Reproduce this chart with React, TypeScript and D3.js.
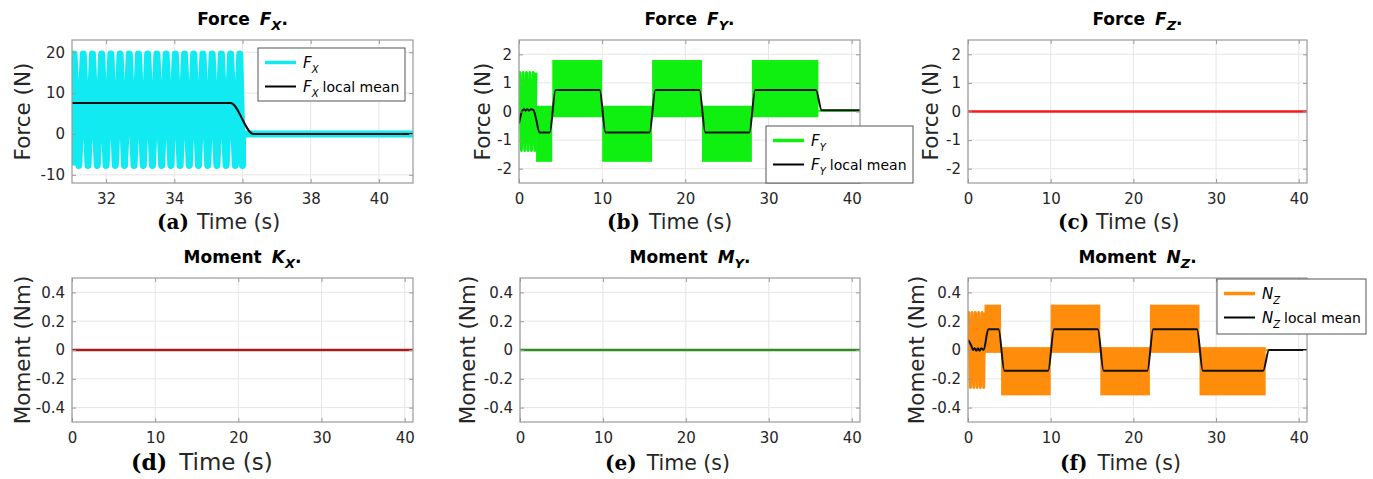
import { useRef, useEffect } from 'react';
import * as d3 from 'd3';

const width = 1373;
const height = 479;

// tick values
const fxTimeTicks = [32, 34, 36, 38, 40];
const timeTicks = [0, 10, 20, 30, 40];
const fxTicks = [-10, 0, 10, 20];
const forceTicks = [-2, -1, 0, 1, 2];
const momentTicks = [-0.4, -0.2, 0, 0.2, 0.4];

// (a) Fx: turning points of the oscillation (s), extremes (N)
const fxPeakTimes = [31.06, 31.33, 31.6, 31.87, 32.14, 32.41, 32.68, 32.95, 33.22, 33.49, 33.76, 34.03, 34.3, 34.57, 34.84, 35.11, 35.38, 35.65, 35.92];
const fxTroughTimes = [31.0, 31.2, 31.47, 31.74, 32.0, 32.27, 32.54, 32.82, 33.09, 33.36, 33.63, 33.9, 34.17, 34.44, 34.71, 34.98, 35.25, 35.52, 35.79, 36.0];
const fxPeakValue = 19.6;
const fxTroughValue = -7.7;
const fxAfter = [[36.0, 0], [41, 0]];
const fxMean = [[31, 7.6], [35.65, 7.6], [36.32, 0], [41, 0]];

// (b) Fy
const fyBurst = [[0, -0.3], [0.1, 1.36], [0.3, -1.36], [0.5, 1.36], [0.7, -1.36], [0.9, 1.36], [1.1, -1.36], [1.3, 1.36], [1.5, -1.36], [1.7, 1.36], [1.9, -1.36], [2.05, 1.36]];
const fyBands = [[2.05, 4.0, -1.76, 0.2], [4.0, 10.0, -0.2, 1.8], [10.0, 16.0, -1.76, 0.2], [16.0, 22.0, -0.2, 1.8], [22.0, 28.0, -1.76, 0.2], [28.0, 36.0, -0.2, 1.8]];
const fyAfter = [[36.0, 0.03], [41, 0.03]];
const fyMean = [[0, -0.42], [0.35, 0.0], [0.6, 0.08], [0.8, 0.03], [1.0, 0.08], [1.2, 0.03], [1.45, 0.08], [1.75, 0.04], [2.05, -0.25], [2.45, -0.73], [3.7, -0.73], [4.4, 0.75], [9.7, 0.75], [10.4, -0.73], [15.7, -0.73], [16.4, 0.75], [21.7, 0.75], [22.4, -0.73], [27.7, -0.73], [28.4, 0.75], [35.7, 0.75], [36.4, 0.04], [41, 0.04]];

// (c) Fz, (d) Kx, (e) My
const fzSeries = [[0, 0], [41, 0]];
const kxSeries = [[0, 0], [41, 0]];
const mySeries = [[0, 0], [41, 0]];

// (f) Nz
const nzBurst = [[0, 0.05], [0.1, 0.26], [0.3, -0.26], [0.5, 0.26], [0.7, -0.26], [0.9, 0.26], [1.1, -0.26], [1.3, 0.26], [1.5, -0.26], [1.7, 0.26], [1.9, -0.26], [2.0, 0.26]];
const nzBands = [[2.0, 4.0, -0.02, 0.315], [4.0, 10.0, -0.315, 0.02], [10.0, 16.0, -0.02, 0.315], [16.0, 22.0, -0.315, 0.02], [22.0, 28.0, -0.02, 0.315], [28.0, 36.0, -0.315, 0.02]];
const nzAfter = [[36.0, 0], [41, 0]];
const nzMean = [[0, 0.07], [0.4, 0.03], [0.6, 0.0], [0.8, 0.012], [1.0, -0.005], [1.2, 0.012], [1.4, -0.005], [1.6, 0.012], [1.9, 0.0], [2.45, 0.144], [3.7, 0.144], [4.4, -0.144], [9.7, -0.144], [10.4, 0.144], [15.7, 0.144], [16.4, -0.144], [21.7, -0.144], [22.4, 0.144], [27.7, 0.144], [28.4, -0.144], [35.7, -0.144], [36.4, 0.0], [41, 0.0]];

const sans = 'DejaVu Sans, sans-serif';
const serif = 'DejaVu Serif, serif';
const ink = '#262626';
const boxColor = '#9a9a9a';
const gridColor = '#e6e6e6';

const panels = [
  { id: 'a', left: 72, right: 413, top: 40, bottom: 183, xDomain: [31, 41], yDomain: [-12, 23], xTicks: fxTimeTicks, yTicks: fxTicks, head: 'Force', sym: 'F', sub: 'X', ylabel: 'Force (N)', ylabelX: 30, tag: '(a)', tagX: 157, tagY: 229, tagSize: 20, timeSize: 20.5, gap: 8 },
  { id: 'b', left: 519, right: 860, top: 40, bottom: 183, xDomain: [0, 41], yDomain: [-2.5, 2.5], xTicks: timeTicks, yTicks: forceTicks, head: 'Force', sym: 'F', sub: 'Y', ylabel: 'Force (N)', ylabelX: 490, tag: '(b)', tagX: 607, tagY: 229, tagSize: 20, timeSize: 20.5, gap: 9 },
  { id: 'c', left: 968, right: 1307, top: 40, bottom: 183, xDomain: [0, 41], yDomain: [-2.5, 2.5], xTicks: timeTicks, yTicks: forceTicks, head: 'Force', sym: 'F', sub: 'Z', ylabel: 'Force (N)', ylabelX: 938, tag: '(c)', tagX: 1058, tagY: 229, tagSize: 20, timeSize: 20.5, gap: 7 },
  { id: 'd', left: 72, right: 413, top: 278, bottom: 422, xDomain: [0, 41], yDomain: [-0.5, 0.5], xTicks: timeTicks, yTicks: momentTicks, head: 'Moment', sym: 'K', sub: 'X', ylabel: 'Moment (Nm)', ylabelX: 30, tag: '(d)', tagX: 131, tagY: 470, tagSize: 22, timeSize: 23, gap: 12 },
  { id: 'e', left: 520, right: 860, top: 278, bottom: 422, xDomain: [0, 41], yDomain: [-0.5, 0.5], xTicks: timeTicks, yTicks: momentTicks, head: 'Moment', sym: 'M', sub: 'Y', ylabel: 'Moment (Nm)', ylabelX: 475, tag: '(e)', tagX: 605, tagY: 470, tagSize: 20, timeSize: 20.5, gap: 10 },
  { id: 'f', left: 968, right: 1307, top: 278, bottom: 422, xDomain: [0, 41], yDomain: [-0.5, 0.5], xTicks: timeTicks, yTicks: momentTicks, head: 'Moment', sym: 'N', sub: 'Z', ylabel: 'Moment (Nm)', ylabelX: 924, tag: '(f)', tagX: 1060, tagY: 470, tagSize: 20, timeSize: 20.5, gap: 10 },
];

function drawPanel(svg, p) {
  const x = d3.scaleLinear().domain(p.xDomain).range([p.left, p.right]);
  const y = d3.scaleLinear().domain(p.yDomain).range([p.bottom, p.top]);
  const g = svg.append('g');

  g.append('clipPath')
    .attr('id', `clip-${p.id}`)
    .append('rect')
    .attr('x', p.left)
    .attr('y', p.top)
    .attr('width', p.right - p.left)
    .attr('height', p.bottom - p.top);

  // grid
  g.selectAll('.gx')
    .data(p.xTicks)
    .join('line')
    .attr('x1', (d) => x(d))
    .attr('x2', (d) => x(d))
    .attr('y1', p.top)
    .attr('y2', p.bottom)
    .attr('stroke', gridColor);
  g.selectAll('.gy')
    .data(p.yTicks)
    .join('line')
    .attr('x1', p.left)
    .attr('x2', p.right)
    .attr('y1', (d) => y(d))
    .attr('y2', (d) => y(d))
    .attr('stroke', gridColor);

  const plot = g.append('g').attr('clip-path', `url(#clip-${p.id})`);

  const styleAxis = (s) => {
    s.select('.domain').remove();
    s.selectAll('line').attr('stroke', boxColor);
    s.selectAll('text').attr('fill', ink).attr('font-size', 15).attr('font-family', sans);
  };

  const overlay = svg.append('g');
  overlay.append('g')
    .attr('transform', `translate(0,${p.bottom})`)
    .call(d3.axisBottom(x).tickValues(p.xTicks).tickSizeInner(-4).tickSizeOuter(0).tickPadding(10).tickFormat((d) => String(d)))
    .call(styleAxis);
  overlay.append('g')
    .attr('transform', `translate(${p.left},0)`)
    .call(d3.axisLeft(y).tickValues(p.yTicks).tickSizeInner(-4).tickSizeOuter(0).tickPadding(7).tickFormat((d) => String(d)))
    .call(styleAxis);
  overlay.append('g')
    .attr('transform', `translate(0,${p.top})`)
    .call(d3.axisTop(x).tickValues(p.xTicks).tickSizeInner(-4).tickSizeOuter(0).tickFormat(() => ''))
    .call(styleAxis);
  overlay.append('g')
    .attr('transform', `translate(${p.right},0)`)
    .call(d3.axisRight(y).tickValues(p.yTicks).tickSizeInner(-4).tickSizeOuter(0).tickFormat(() => ''))
    .call(styleAxis);

  overlay.append('rect')
    .attr('x', p.left)
    .attr('y', p.top)
    .attr('width', p.right - p.left)
    .attr('height', p.bottom - p.top)
    .attr('fill', 'none')
    .attr('stroke', boxColor)
    .attr('stroke-width', 1.2);

  // title
  const title = overlay.append('text')
    .attr('x', (p.left + p.right) / 2)
    .attr('y', p.top - 15)
    .attr('text-anchor', 'middle')
    .attr('font-family', sans)
    .attr('font-weight', 'bold')
    .attr('font-size', 17)
    .attr('fill', '#000');
  title.append('tspan').text(p.head);
  title.append('tspan').attr('dx', 10).attr('font-style', 'italic').text(p.sym);
  title.append('tspan').attr('dy', 5).attr('font-size', 13).attr('font-style', 'italic').text(p.sub);
  title.append('tspan').attr('dy', -5).text('.');

  // y label
  overlay.append('text')
    .attr('transform', `translate(${p.ylabelX},${(p.top + p.bottom) / 2}) rotate(-90)`)
    .attr('text-anchor', 'middle')
    .attr('font-family', sans)
    .attr('font-size', 21.5)
    .attr('fill', ink)
    .text(p.ylabel);

  // x label
  const xl = overlay.append('text')
    .attr('x', p.tagX)
    .attr('y', p.tagY)
    .attr('fill', ink);
  xl.append('tspan').attr('font-family', serif).attr('font-weight', 'bold').attr('font-size', p.tagSize).attr('fill', '#000').text(p.tag);
  xl.append('tspan').attr('dx', p.gap).attr('font-family', sans).attr('font-size', p.timeSize).text('Time (s)');

  return { x, y, plot, overlay };
}

function drawLegend(overlay, box, color, colorWidth, sym, sub) {
  const lg = overlay.append('g').attr('transform', `translate(${box.x},${box.y})`);
  lg.append('rect')
    .attr('width', box.w)
    .attr('height', box.h)
    .attr('fill', '#fff')
    .attr('stroke', '#555')
    .attr('stroke-width', 1);
  const rows = [
    { c: color, w: colorWidth, extra: '' },
    { c: '#000', w: 2, extra: 'local mean' },
  ];
  rows.forEach((r, i) => {
    const ry = i === 0 ? 14.5 : 38.5;
    lg.append('line').attr('x1', 7).attr('x2', 38).attr('y1', ry).attr('y2', ry).attr('stroke', r.c).attr('stroke-width', r.w);
    const t = lg.append('text').attr('x', 45).attr('y', ry + 5).attr('font-family', sans).attr('font-size', 14).attr('fill', '#000');
    t.append('tspan').attr('font-style', 'italic').attr('font-size', 15).text(sym);
    t.append('tspan').attr('dy', 5).attr('font-size', 10).attr('font-style', 'italic').text(sub);
    if (r.extra) t.append('tspan').attr('dy', -5).attr('dx', 4).text(r.extra);
  });
}

function App() {
  const svgRef = useRef(null);

  useEffect(() => {
    const svg = d3.select(svgRef.current);
    svg.selectAll('*').remove();
    svg.append('rect').attr('width', width).attr('height', height).attr('fill', '#fff');

    const path = (x, y, curve?) => {
      const l = d3.line().x((d) => x(d[0])).y((d) => y(d[1]));
      return curve ? l.curve(curve) : l;
    };

    // (a)
    {
      const { x, y, plot, overlay } = drawPanel(svg, panels[0]);
      const cyan = '#10eaf0';
      const wave = [
        ...fxPeakTimes.map((t) => [t, fxPeakValue]),
        ...fxTroughTimes.map((t) => [t, fxTroughValue]),
      ].sort((a, b) => a[0] - b[0]).concat(fxAfter);
      plot.append('path').attr('d', path(x, y)(wave)).attr('fill', 'none').attr('stroke', cyan).attr('stroke-width', 7).attr('stroke-linejoin', 'round');
      plot.append('path').attr('d', path(x, y)(fxAfter)).attr('fill', 'none').attr('stroke', cyan).attr('stroke-width', 2.5);
      plot.append('path').attr('d', path(x, y, d3.curveMonotoneX)(fxMean)).attr('fill', 'none').attr('stroke', '#111').attr('stroke-width', 2);
      drawLegend(overlay, { x: 258, y: 48, w: 147, h: 53 }, cyan, 3.5, 'F', 'X');
    }

    // (b)
    {
      const { x, y, plot, overlay } = drawPanel(svg, panels[1]);
      const green = '#10f010';
      plot.append('path').attr('d', path(x, y)(fyBurst)).attr('fill', 'none').attr('stroke', green).attr('stroke-width', 3).attr('stroke-linejoin', 'round');
      plot.selectAll('.band')
        .data(fyBands)
        .join('rect')
        .attr('x', (d) => x(d[0]))
        .attr('width', (d) => x(d[1]) - x(d[0]))
        .attr('y', (d) => y(d[3]))
        .attr('height', (d) => y(d[2]) - y(d[3]))
        .attr('fill', green);
      plot.append('path').attr('d', path(x, y)(fyAfter)).attr('fill', 'none').attr('stroke', green).attr('stroke-width', 2);
      plot.append('path').attr('d', path(x, y, d3.curveMonotoneX)(fyMean)).attr('fill', 'none').attr('stroke', '#111').attr('stroke-width', 2);
      drawLegend(overlay, { x: 766, y: 126, w: 147, h: 57 }, green, 3.5, 'F', 'Y');
    }

    // (c)
    {
      const { x, y, plot } = drawPanel(svg, panels[2]);
      plot.append('path').attr('d', path(x, y)(fzSeries)).attr('fill', 'none').attr('stroke', '#f41a1a').attr('stroke-width', 2.5);
    }

    // (d)
    {
      const { x, y, plot } = drawPanel(svg, panels[3]);
      plot.append('path').attr('d', path(x, y)(kxSeries)).attr('fill', 'none').attr('stroke', '#a51c1c').attr('stroke-width', 2.5);
    }

    // (e)
    {
      const { x, y, plot } = drawPanel(svg, panels[4]);
      plot.append('path').attr('d', path(x, y)(mySeries)).attr('fill', 'none').attr('stroke', '#338a22').attr('stroke-width', 2.5);
    }

    // (f)
    {
      const { x, y, plot, overlay } = drawPanel(svg, panels[5]);
      const orange = '#ff8c0a';
      plot.append('path').attr('d', path(x, y)(nzBurst)).attr('fill', 'none').attr('stroke', orange).attr('stroke-width', 3).attr('stroke-linejoin', 'round');
      plot.selectAll('.band')
        .data(nzBands)
        .join('rect')
        .attr('x', (d) => x(d[0]))
        .attr('width', (d) => x(d[1]) - x(d[0]))
        .attr('y', (d) => y(d[3]))
        .attr('height', (d) => y(d[2]) - y(d[3]))
        .attr('fill', orange);
      plot.append('path').attr('d', path(x, y)(nzAfter)).attr('fill', 'none').attr('stroke', orange).attr('stroke-width', 2);
      plot.append('path').attr('d', path(x, y, d3.curveMonotoneX)(nzMean)).attr('fill', 'none').attr('stroke', '#111').attr('stroke-width', 2);
      drawLegend(overlay, { x: 1217, y: 279, w: 149, h: 55 }, orange, 3.5, 'N', 'Z');
    }
  }, []);

  return (
    <svg
      ref={svgRef}
      width={width}
      height={height}
      style={{ position: 'absolute', left: 0, top: 0, display: 'block' }}
    ></svg>
  );
}

export default App;
